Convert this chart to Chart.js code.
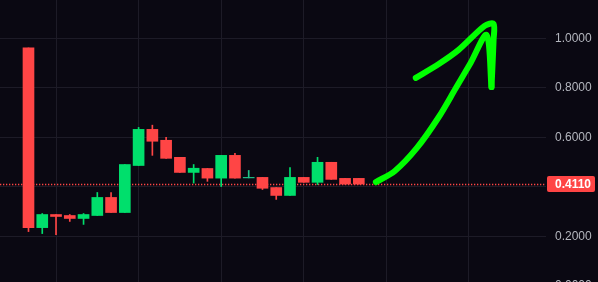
<!DOCTYPE html>
<html>
<head>
<meta charset="utf-8">
<script src="https://cdn.jsdelivr.net/npm/chart.js@4.4.1/dist/chart.umd.min.js"></script>
<style>
  html, body { margin: 0; padding: 0; background: #0a0812; overflow: hidden; }
  #wrap { width: 598px; height: 300px; }
</style>
</head>
<body>
<div id="wrap"><canvas id="priceChart" width="598" height="300"></canvas></div>
<script>
// candle data (one slot per candle)
const opens  = [0.961, 0.235, 0.288, 0.284, 0.272, 0.284, 0.357, 0.296, 0.486, 0.632, 0.588, 0.519, 0.458,
                0.474, 0.435, 0.527, 0.436, 0.438, 0.397, 0.365, 0.438, 0.418, 0.499, 0.434, 0.434];
const closes = [0.235, 0.288, 0.280, 0.272, 0.288, 0.357, 0.296, 0.490, 0.632, 0.584, 0.515, 0.458, 0.475,
                0.435, 0.527, 0.435, 0.438, 0.394, 0.365, 0.438, 0.418, 0.499, 0.430, 0.411, 0.411];
const highs  = [0.961, 0.292, 0.288, 0.288, 0.292, 0.377, 0.377, 0.490, 0.640, 0.649, 0.600, 0.519, 0.490,
                0.474, 0.527, 0.535, 0.466, 0.438, 0.397, 0.478, 0.438, 0.519, 0.499, 0.434, 0.434];
const lows   = [0.219, 0.211, 0.207, 0.260, 0.248, 0.284, 0.296, 0.296, 0.486, 0.527, 0.515, 0.458, 0.415,
                0.422, 0.401, 0.435, 0.436, 0.389, 0.349, 0.365, 0.418, 0.409, 0.430, 0.411, 0.411];
const lastPrice = 0.411;
const yTicks = [0, 0.2, 0.4, 0.6, 0.8, 1.0];

// hand drawn arrow, in (candle slot, price) units
const arrowShaftX = [23.24, 24.62, 26.22, 27.81, 29.05, 30.12, 31.28, 31.64];
const arrowShaftY = [0.419, 0.464, 0.557, 0.682, 0.799, 0.900, 1.013, 0.803];
const arrowHeadX  = [26.14, 27.81, 29.25, 31.14, 31.79, 31.79, 31.64];
const arrowHeadY  = [0.840, 0.896, 0.953, 1.050, 1.058, 0.993, 0.803];

const RED = "#ff4545";
const GREEN = "#00df6c";
const TEAL = "#1fc488";
const GRID = "#1d1b27";

const slot = (i) => i - 2; // first gridline sits on the third candle
const candleColor = opens.map((o, i) => {
  if (Math.abs(closes[i] - o) < 0.005) return TEAL;
  return closes[i] >= o ? GREEN : RED;
});

const bodies = opens.map((o, i) => ({ x: slot(i), y: [o, closes[i]] }));
const wicks = lows.map((l, i) => ({ x: slot(i), y: [l, highs[i]] }));
const shaft = arrowShaftX.map((x, i) => ({ x: x, y: arrowShaftY[i] }));
const head = arrowHeadX.map((x, i) => ({ x: x, y: arrowHeadY[i] }));

// dotted last-price line behind the candles + red price tag on the axis
const priceLine = {
  id: "priceLine",
  beforeDatasetsDraw(chart) {
    const { ctx, chartArea, scales } = chart;
    const y = Math.round(scales.y.getPixelForValue(lastPrice)) + 0.5;
    ctx.save();
    ctx.strokeStyle = RED;
    ctx.lineWidth = 1.3;
    ctx.setLineDash([1.3, 1.7]);
    ctx.beginPath();
    ctx.moveTo(chartArea.left, y);
    ctx.lineTo(chartArea.right, y);
    ctx.stroke();
    ctx.restore();
  },
  afterDraw(chart) {
    const { ctx, chartArea, scales } = chart;
    const y = scales.y.getPixelForValue(lastPrice);
    const x = chartArea.right + 1;
    ctx.save();
    ctx.fillStyle = RED;
    ctx.beginPath();
    ctx.roundRect(x, y - 8, 48, 16, 2);
    ctx.fill();
    ctx.fillStyle = "#ffffff";
    ctx.font = "bold 12px 'Liberation Sans', Arial, sans-serif";
    ctx.textBaseline = "middle";
    ctx.fillText(lastPrice.toFixed(4), x + 8, y + 0.5);
    ctx.restore();
  },
};

new Chart(document.getElementById("priceChart").getContext("2d"), {
  type: "bar",
  data: {
    datasets: [
      {
        type: "line",
        data: shaft,
        borderColor: "#00ff00",
        borderWidth: 6,
        borderCapStyle: "round",
        borderJoinStyle: "round",
        tension: 0.3,
        pointRadius: 0,
        order: 0,
      },
      {
        type: "line",
        data: head,
        borderColor: "#00ff00",
        borderWidth: 6,
        borderCapStyle: "round",
        borderJoinStyle: "round",
        tension: 0.3,
        pointRadius: 0,
        order: 0,
      },
      {
        label: "body",
        data: bodies,
        backgroundColor: candleColor,
        barThickness: 11,
        grouped: false,
        borderWidth: 0,
        borderSkipped: false,
        order: 1,
      },
      {
        label: "wick",
        data: wicks,
        backgroundColor: candleColor,
        barThickness: 1,
        grouped: false,
        borderWidth: 0,
        borderSkipped: false,
        order: 2,
      },
    ],
  },
  options: {
    responsive: false,
    animation: false,
    layout: { padding: 0 },
    plugins: { legend: { display: false }, tooltip: { enabled: false } },
    scales: {
      x: {
        type: "linear",
        min: -4.07,
        max: 35.6,
        offset: false,
        grid: { color: GRID, offset: false, drawTicks: false },
        border: { display: false },
        ticks: { display: false },
        afterBuildTicks: (s) => { s.ticks = [0, 6, 12, 18, 24, 30].map((v) => ({ value: v })); },
        afterFit: (s) => { s.height = 0; },
      },
      y: {
        position: "right",
        min: -0.0574,
        max: 1.1547,
        grid: { color: GRID, drawTicks: false },
        border: { display: false },
        ticks: {
          color: "#b4b6be",
          padding: 9,
          font: { family: "'Liberation Sans', Arial, sans-serif", size: 12 },
          callback: (v) => v.toFixed(4),
        },
        afterBuildTicks: (s) => { s.ticks = yTicks.map((v) => ({ value: v })); },
        afterFit: (s) => { s.width = 52; s.paddingTop = 0; s.paddingBottom = 0; },
      },
    },
  },
  plugins: [priceLine],
});
</script>
</body>
</html>
